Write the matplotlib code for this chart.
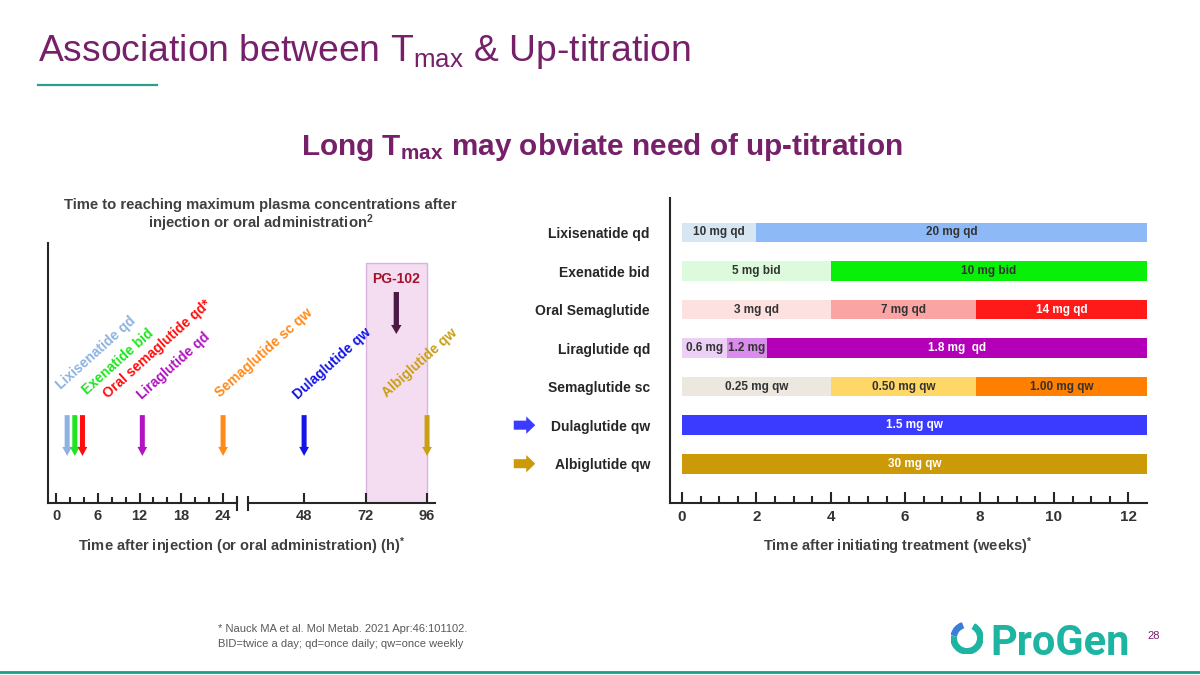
import numpy as np
import matplotlib.pyplot as plt
from matplotlib.patches import Wedge
from matplotlib.lines import Line2D
from matplotlib.ticker import MultipleLocator
from matplotlib.transforms import offset_copy

plt.rcParams['font.family'] = ['Liberation Sans', 'DejaVu Sans']
plt.rcParams['mathtext.default'] = 'regular'

# left panel: time to Tmax (hours)
tmax_drugs = ['Lixisenatide qd', 'Exenatide bid', 'Oral semaglutide qd*', 'Liraglutide qd',
              'Semaglutide sc qw', 'Dulaglutide qw', 'Albiglutide qw']
tmax_hours = [1.6, 2.7, 3.8, 12.4, 24, 48, 96]
tmax_colors = ['#8db3e2', '#1ee61e', '#ff0d0d', '#b015c0', '#ff8a1a', '#1414e6', '#c9a013']
pg102_tmax = 84
pg102_window = [72, 96]
hour_ticks_short = [0, 6, 12, 18, 24]
hour_ticks_long = [48, 72, 96]

# right panel: titration schedule (weeks)
drugs = ['Lixisenatide qd', 'Exenatide bid', 'Oral Semaglutide', 'Liraglutide qd',
         'Semaglutide sc', 'Dulaglutide qw', 'Albiglutide qw']
step_weeks = [[0, 2, 12.5], [0, 4, 12.5], [0, 4, 7.9, 12.5], [0, 1.2, 2.3, 12.5],
              [0, 4, 7.9, 12.5], [0, 12.5], [0, 12.5]]
dose_labels = [['10 mg qd', '20 mg qd'], ['5 mg bid', '10 mg bid'],
               ['3 mg qd', '7 mg qd', '14 mg qd'], ['0.6 mg', '1.2 mg', '1.8 mg  qd'],
               ['0.25 mg qw', '0.50 mg qw', '1.00 mg qw'], ['1.5 mg qw'], ['30 mg qw']]
highlight = ['Dulaglutide qw', 'Albiglutide qw']
week_ticks = [0, 2, 4, 6, 8, 10, 12]

# styles
dose_colors = [['#d6e6f3', '#8db9f7'], ['#dcfadc', '#08f008'],
               ['#fde0e0', '#fba4a4', '#ff1a1a'], ['#ecd0f5', '#d98ceb', '#b300b8'],
               ['#ece8df', '#fed766', '#ff7f00'], ['#3b3bff'], ['#cc9a06']]
dark = '#333333'
dose_text = [[dark, dark], [dark, dark], [dark, dark, 'white'], [dark, dark, 'white'],
             [dark, dark, dark], ['white'], ['white']]
label_offsets = [(-6, 25), (12, 20), (26, 16), (0, 15), (-3, 17), (-6, 15), (-40, 17)]  # px

purple = '#76206a'
ink = '#262626'
grey = '#404040'
W, H = 1200, 675


def fx(px):
    return px / W


def fy(py):
    return 1 - py / H


fig = plt.figure(figsize=(12, 6.75), dpi=100)

# header
fig.text(fx(38), fy(61), 'Association between T$_{max}$ & Up-titration',
         fontsize=26.8, color=purple, va='baseline')
fig.add_artist(Line2D([fx(38), fx(157)], [fy(85)] * 2, color='#2a9d8f', lw=1.6))
fig.text(fx(602), fy(155), 'Long T$_{max}$ may obviate need of up-titration',
         fontsize=21.4, fontweight='bold', color=purple, ha='center', va='baseline')

# ---- left panel (broken axis) ----
axa = fig.add_axes([fx(48), fy(503), (237 - 48) / W, (503 - 243) / H])
axb = fig.add_axes([fx(248), fy(503), (435 - 248) / W, (503 - 243) / H])
axa.set_xlim(-1.15, 26.0)
axb.set_xlim(26.1, 99.1)
for ax in (axa, axb):
    ax.set_ylim(0, 1)
    ax.patch.set_visible(False)
    ax.set_yticks([])
    for s in ('top', 'right'):
        ax.spines[s].set_visible(False)
    for s in ('left', 'bottom'):
        ax.spines[s].set_linewidth(1.5)
        ax.spines[s].set_color(ink)
    ax.tick_params(axis='x', which='major', direction='in', length=7, width=1.5,
                   pad=4, color=ink, labelcolor=dark)
    ax.tick_params(axis='x', which='minor', direction='in', length=4, width=1.5, color=ink)
axb.spines['left'].set_visible(False)
axa.set_xticks(hour_ticks_short, [str(t) for t in hour_ticks_short],
               fontsize=10.5, fontweight='bold')
axa.xaxis.set_minor_locator(MultipleLocator(2))
axb.set_xticks(hour_ticks_long, [str(t) for t in hour_ticks_long],
               fontsize=10.5, fontweight='bold')

# break marks
axa.plot([1, 1], [-0.025, 0.025], transform=axa.transAxes, color=ink, lw=1.5, clip_on=False)
axb.plot([0, 0], [-0.025, 0.025], transform=axb.transAxes, color=ink, lw=1.5, clip_on=False)

axb.axvspan(*pg102_window, ymax=0.923, facecolor='#f4dcf1', edgecolor='#d9b4de',
            lw=1, zorder=0)

arrow_top, arrow_tip = 0.338, 0.181
for name, t, c, (dx, dy) in zip(tmax_drugs, tmax_hours, tmax_colors, label_offsets):
    ax = axa if t <= 26 else axb
    ax.annotate('', xy=(t, arrow_tip), xytext=(t, arrow_top),
                arrowprops=dict(arrowstyle='simple,head_width=0.7,head_length=0.65,tail_width=0.36',
                                mutation_scale=10, color=c, lw=0, shrinkA=0, shrinkB=0))
    ax.annotate(name, xy=(t, arrow_top), xytext=(dx * 0.72, dy * 0.72),
                textcoords='offset points', rotation=42, rotation_mode='anchor',
                ha='left', va='baseline', fontsize=10, fontweight='bold', color=c,
                annotation_clip=False)

axb.annotate('', xy=(pg102_tmax, 0.65), xytext=(pg102_tmax, 0.8115),
             arrowprops=dict(arrowstyle='simple,head_width=0.75,head_length=0.65,tail_width=0.38',
                             mutation_scale=10, color='#4b1a44', lw=0, shrinkA=0, shrinkB=0))
axb.text(pg102_tmax, 0.862, 'PG-102', ha='center', va='center', fontsize=10,
         fontweight='bold', color='#a3122b')

fig.text(fx(260), fy(209), 'Time to reaching maximum plasma concentrations after',
         ha='center', va='baseline', fontsize=10.7, fontweight='bold', color=grey)
fig.text(fx(261), fy(228), 'injection or oral administration$^{2}$',
         ha='center', va='baseline', fontsize=10.7, fontweight='bold', color=grey)
fig.text(fx(242), fy(551), 'Time after injection (or oral administration) (h)$^{*}$',
         ha='center', va='baseline', fontsize=10.5, fontweight='bold', color=grey)

# ---- right panel ----
axr = fig.add_axes([fx(670), fy(503), (1147 - 670) / W, (503 - 198) / H])
axr.set_xlim(-0.32, 12.5)
axr.set_ylim(7.02, -0.895)
for i, edges in enumerate(step_weeks):
    for j in range(len(edges) - 1):
        axr.barh(i, edges[j + 1] - edges[j], left=edges[j], height=0.51,
                 color=dose_colors[i][j], lw=0)
        axr.text((edges[j] + edges[j + 1]) / 2, i, dose_labels[i][j], ha='center',
                 va='center', fontsize=8.5, fontweight='bold', color=dose_text[i][j])

for s in ('top', 'right'):
    axr.spines[s].set_visible(False)
for s in ('left', 'bottom'):
    axr.spines[s].set_linewidth(1.5)
    axr.spines[s].set_color(ink)
axr.set_yticks(range(len(drugs)), drugs, fontsize=10, fontweight='bold', color=ink)
axr.tick_params(axis='y', length=0, pad=14.4)
axr.set_xticks(week_ticks, [str(w) for w in week_ticks], fontsize=11, fontweight='bold')
axr.set_xticks(np.arange(0, 12.1, 0.5), minor=True)
axr.tick_params(axis='x', which='major', direction='in', length=8, width=1.5, pad=5,
                color=ink, labelcolor=dark)
axr.tick_params(axis='x', which='minor', direction='in', length=5, width=1.5, color=ink)

for name in highlight:
    i = drugs.index(name)
    tr = offset_copy(axr.get_yaxis_transform(), fig=fig, x=-97, y=0, units='points')
    axr.annotate('', xy=(0, i), xycoords=tr, xytext=(-15.5, 0), textcoords='offset points',
                 arrowprops=dict(arrowstyle='simple,head_width=1.25,head_length=0.65,tail_width=0.65',
                                 mutation_scale=10, color=dose_colors[i][-1], lw=0,
                                 shrinkA=0, shrinkB=0),
                 annotation_clip=False)

fig.text(fx(898), fy(551), 'Time after initiating treatment (weeks)$^{*}$',
         ha='center', va='baseline', fontsize=10.5, fontweight='bold', color=grey)

# footer
fig.text(fx(218), fy(632), '* Nauck MA et al. Mol Metab. 2021 Apr:46:101102.',
         fontsize=8, color='#595959', va='baseline')
fig.text(fx(218), fy(647), 'BID=twice a day; qd=once daily; qw=once weekly',
         fontsize=8, color='#595959', va='baseline')

axl = fig.add_axes([fx(951), fy(654), 32 / W, 32 / H])
axl.set_xlim(-1, 1)
axl.set_ylim(-1, 1)
axl.axis('off')
axl.add_patch(Wedge((0, 0), 1, 175, 420, width=0.33, color='#1db4a1'))
axl.add_patch(Wedge((0, 0), 1, 110, 168, width=0.33, color='#3b7dd8'))
fig.text(fx(990), fy(655), 'ProGen', fontsize=30, fontweight='bold', family='Roboto',
         color='#1db4a1', va='baseline')
fig.text(fx(1147), fy(639), '28', fontsize=8, color=purple, va='baseline')
fig.add_artist(Line2D([0, 1], [fy(672)] * 2, color='#1a9e8c', lw=2))

fig.savefig('out.png', dpi=100)
